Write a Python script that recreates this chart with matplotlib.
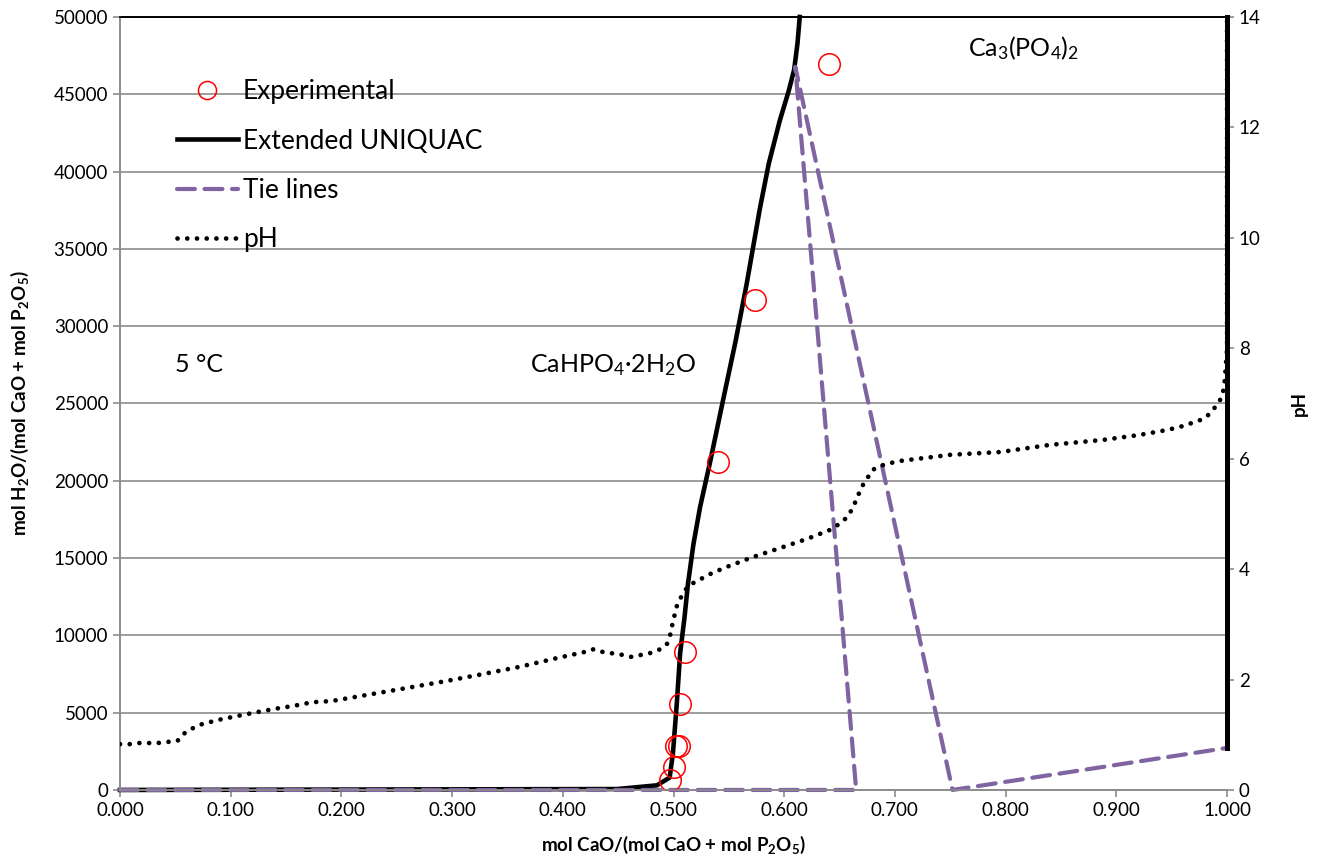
import numpy as np
import matplotlib
matplotlib.use("Agg")
import matplotlib.pyplot as plt
from matplotlib.lines import Line2D

plt.rcParams['font.family'] = ['Lato', 'DejaVu Sans']
plt.rcParams['mathtext.fontset'] = 'custom'
plt.rcParams['mathtext.rm'] = 'Lato'
plt.rcParams['mathtext.it'] = 'Lato'
plt.rcParams['mathtext.bf'] = 'Lato:bold'
plt.rcParams['mathtext.default'] = 'regular'

# experimental solubility points
exp_x = [0.497, 0.5005, 0.502, 0.505, 0.506, 0.510, 0.540, 0.574, 0.640]
exp_y = [650, 1490, 2850, 2850, 5560, 8930, 21200, 31700, 46960]

# Extended UNIQUAC model: saturation curve + vertical branch at x = 1
uq_x = [0.0, 0.449, 0.485, 0.4965, 0.4995, 0.503, 0.506, 0.510, 0.513, 0.518,
        0.524, 0.533, 0.545, 0.556, 0.566, 0.578, 0.586, 0.596, 0.604, 0.609,
        0.612, 0.614]
uq_y = [0, 60, 300, 800, 2390, 5630, 8860, 11200, 13300, 15900,
        18300, 21200, 25300, 29000, 32700, 37600, 40500, 43300, 45200, 46600,
        48300, 50000]
uq_edge_x = [1.0, 1.0]
uq_edge_y = [2720, 50000]

# tie lines
tie_x = [0.0, 0.665, 0.610, 0.752, 1.0]
tie_y = [0, 0, 46770, 0, 2720]

# pH along the saturation curve (right axis)
ph_x = [0.0, 0.009, 0.017, 0.034, 0.043, 0.052, 0.057, 0.064, 0.072, 0.089,
        0.106, 0.124, 0.140, 0.156, 0.174, 0.191, 0.240, 0.294, 0.328, 0.361,
        0.395, 0.420, 0.428, 0.436, 0.453, 0.462, 0.479, 0.487, 0.494, 0.497,
        0.4995, 0.503, 0.507, 0.512, 0.518, 0.533, 0.548, 0.572, 0.596, 0.621,
        0.644, 0.657, 0.662, 0.670, 0.680, 0.691, 0.705, 0.750, 0.795, 0.840,
        0.888, 0.921, 0.946, 0.960, 0.976, 0.982, 0.987, 0.992, 0.996, 0.998,
        1.0, 1.0]
ph_y = [0.83, 0.83, 0.85, 0.85, 0.87, 0.89, 1.01, 1.10, 1.18, 1.27,
        1.34, 1.41, 1.47, 1.52, 1.59, 1.61, 1.78, 1.97, 2.10, 2.23,
        2.39, 2.50, 2.55, 2.50, 2.45, 2.41, 2.48, 2.54, 2.64, 2.81,
        3.05, 3.33, 3.50, 3.66, 3.75, 3.91, 4.04, 4.22, 4.38, 4.55,
        4.73, 4.94, 5.11, 5.49, 5.80, 5.90, 5.96, 6.07, 6.12, 6.25,
        6.34, 6.43, 6.52, 6.59, 6.70, 6.77, 6.88, 7.00, 7.15, 7.43,
        8.0, 14.0]

x_ticks = np.arange(0, 1.0001, 0.1)
y_ticks = np.arange(0, 50001, 5000)
ph_ticks = np.arange(0, 15, 2)

purple = '#8064A2'
grid_c = '#8c8c8c'
tie_dash = (4.3, 2.3)
dot_style = (0, (0.01, 2.05))

fig = plt.figure(figsize=(13.17, 8.61), dpi=100)
ax = fig.add_axes([0.0911, 0.0825, 0.8406, 0.8978])
ax2 = ax.twinx()

ax.set_xlim(0, 1)
ax.set_ylim(0, 50000)
ax2.set_ylim(0, 14)

ax.set_yticks(y_ticks)
ax.set_xticks(x_ticks)
ax.set_xticklabels(['%.3f' % v for v in x_ticks])
ax.set_yticklabels(['%d' % v for v in y_ticks])
ax2.set_yticks(ph_ticks)
ax.yaxis.grid(True, color=grid_c, lw=1.2)
ax.set_axisbelow(True)

for a in (ax, ax2):
    a.tick_params(labelsize=13.5, colors=grid_c, labelcolor='black', length=5, width=1.2)
    for s in a.spines.values():
        s.set_color(grid_c)
        s.set_linewidth(1.2)
    a.spines['top'].set_color('black')
    a.spines['right'].set_visible(False)

ax.plot(tie_x, tie_y, color=purple, lw=3.0, dashes=tie_dash, dash_capstyle='round',
        zorder=3, clip_on=False)
ax.plot(uq_x, uq_y, color='black', lw=3.3, zorder=2, clip_on=False)
ax2.plot(ph_x, ph_y, color='black', lw=3.4, ls=dot_style, dash_capstyle='round', zorder=4)
# vertical model branch at x = 1, drawn above the twin axis
ax2.plot(uq_edge_x, uq_edge_y, color='black', lw=3.6, zorder=6, clip_on=False,
         transform=ax.transData)
ax.plot(exp_x, exp_y, 'o', mfc='none', mec='red', mew=1.1, ms=15.5, zorder=5)

ax.set_xlabel(r'mol CaO/(mol CaO + mol P$_2$O$_5$)', fontsize=13.5, fontweight='bold', labelpad=11)
ax.set_ylabel(r'mol H$_2$O/(mol CaO + mol P$_2$O$_5$)', fontsize=13.5, fontweight='bold', labelpad=16)
ax2.set_ylabel('pH', fontsize=13.5, fontweight='bold', labelpad=22)

ax.text(0.05, 27500, '5 °C', fontsize=18, va='center')
ax.text(0.370, 27500, r'CaHPO$_4$·2H$_2$O', fontsize=18, va='center')
ax.text(0.766, 48000, r'Ca$_3$(PO$_4$)$_2$', fontsize=18, va='center')

handles = [
    Line2D([], [], ls='none', marker='o', mfc='none', mec='red', mew=1.1, ms=13),
    Line2D([], [], color='black', lw=3.3),
    Line2D([], [], color=purple, lw=3.0, dashes=tie_dash, dash_capstyle='round'),
    Line2D([], [], color='black', lw=3.4, ls=dot_style, dash_capstyle='round'),
]
labels = ['Experimental', 'Extended UNIQUAC', 'Tie lines', 'pH']
ax2.legend(handles, labels, loc='upper left', bbox_to_anchor=(0.030, 0.95), frameon=False,
           fontsize=19, handlelength=2.3, handletextpad=0.2, labelspacing=0.92)

fig.savefig('out.png', dpi=100)
